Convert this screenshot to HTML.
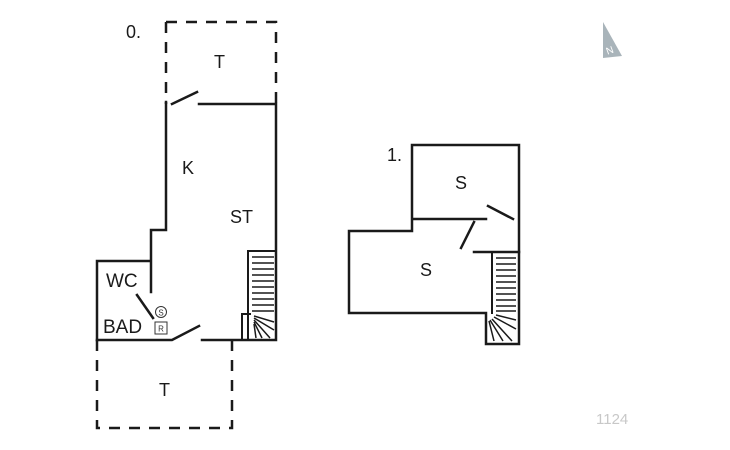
<!DOCTYPE html>
<html><head><style>body{margin:0;background:#fff}svg{display:block}</style></head><body>
<svg width="730" height="450" viewBox="0 0 730 450" xmlns="http://www.w3.org/2000/svg" font-family="Liberation Sans, sans-serif">
<g stroke="#1a1a1a" stroke-width="2.5" fill="none" stroke-linecap="square">
<path d="M166 22 H276 V104 M166 22 V104" stroke-dasharray="11 9" stroke-linecap="butt"/>
<path d="M166 102 V230 H151 V292"/>
<path d="M199 104 H276 V340 H202"/>
<path d="M172 104 L197 92"/>
<path d="M97 340 V261 H150"/>
<path d="M97 340 H172 L199 326"/>
<path d="M97 340 V428 H232 V340" stroke-dasharray="11 9" stroke-linecap="butt"/>
<path d="M137 295 L153 318"/>
<path d="M248 340 V251 H276" stroke-width="2"/>
<path d="M242 340 V314 H250" stroke-width="2"/>
<path d="M412 219 V145 H519 V344 H486 V313 H349 V231 H412 V219 H486"/>
<path d="M488 206 L513 219"/>
<path d="M461 248 L474 222"/>
<path d="M474 252 H519"/>
<path d="M492 252 V313" stroke-width="2"/>
</g>
<g stroke="#1a1a1a" stroke-width="1.5">
<path d="M252 257 H274 M252 263 H274 M252 269 H274 M252 275 H274 M252 281 H274 M252 287 H274 M252 293 H274 M252 299 H274 M252 305 H274 M252 311 H274"/>
<path d="M254 316 L274 322 M254 318 L274 330 M254 320 L270 338 M254 322 L262 338 M254 324 L256 338 M248 320 V338"/>
<path d="M496 258 H516 M496 264 H516 M496 270 H516 M496 276 H516 M496 282 H516 M496 288 H516 M496 294 H516 M496 300 H516 M496 306 H516 M496 311 H516"/>
<path d="M496 315 L516 320 M494 317 L516 329 M492 319 L512 341 M490 320 L503 341 M489 321 L494 341"/>
</g>
<circle cx="161" cy="312" r="5.5" fill="none" stroke="#333" stroke-width="1"/>
<text x="161" y="315.5" font-size="8" text-anchor="middle" fill="#333">S</text>
<rect x="155" y="322" width="12" height="12" fill="none" stroke="#333" stroke-width="1"/>
<text x="161" y="331.5" font-size="8" text-anchor="middle" fill="#333">R</text>
<g fill="#1a1a1a" font-size="18">
<text x="126" y="38">0.</text>
<text x="214" y="68">T</text>
<text x="182" y="174">K</text>
<text x="230" y="223">ST</text>
<text x="106" y="287" font-size="19">WC</text>
<text x="103" y="333" font-size="19">BAD</text>
<text x="159" y="396">T</text>
<text x="387" y="161">1.</text>
<text x="455" y="189">S</text>
<text x="420" y="276">S</text>
</g>
<polygon points="603,22 622,56 603,58" fill="#a9b4ba"/>
<text x="606" y="54" font-size="10" fill="#fff" transform="rotate(-20 609 50)">N</text>
<text x="596" y="424" font-size="15" fill="#c8c8c8">1124</text>
</svg>
</body></html>
